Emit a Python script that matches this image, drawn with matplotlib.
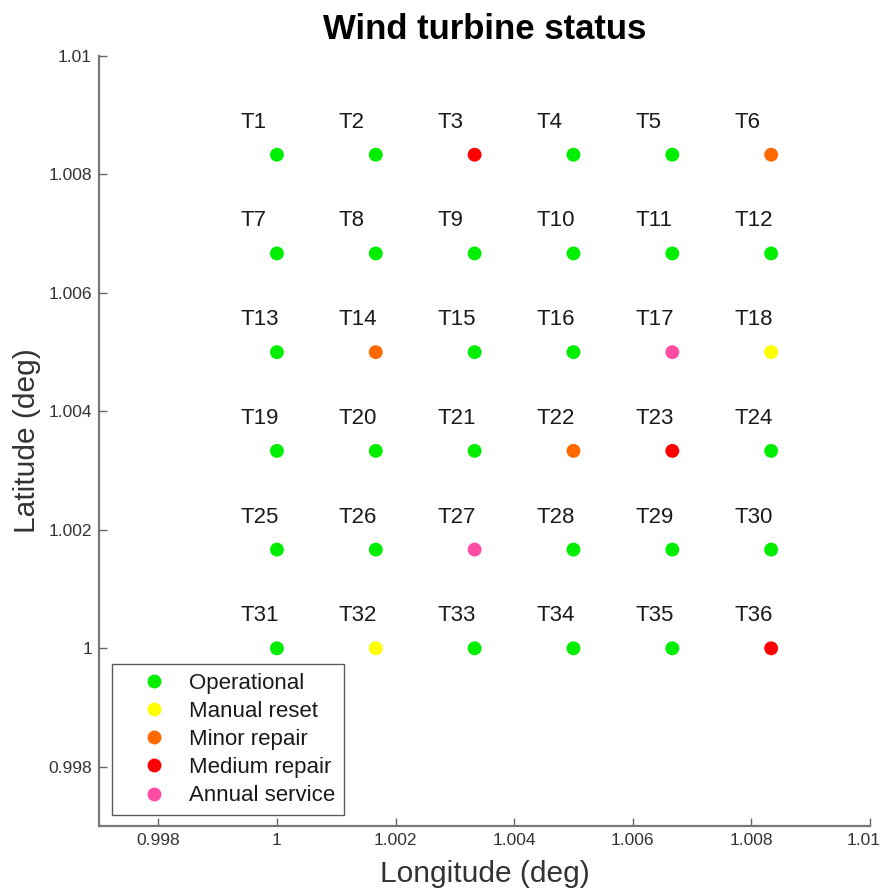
import matplotlib
matplotlib.use("Agg")
import matplotlib.pyplot as plt
import matplotlib.transforms as mtransforms
from matplotlib.lines import Line2D

plt.rcParams['font.family'] = ['Liberation Sans', 'DejaVu Sans']

# Data
lon_values = [1.0, 1.0 + 1/600, 1.0 + 2/600, 1.0 + 3/600, 1.0 + 4/600, 1.0 + 5/600]
lat_values = [1.0 + 5/600, 1.0 + 4/600, 1.0 + 3/600, 1.0 + 2/600, 1.0 + 1/600, 1.0]
status_rows = [
    ["Operational", "Operational", "Medium repair", "Operational", "Operational", "Minor repair"],
    ["Operational", "Operational", "Operational", "Operational", "Operational", "Operational"],
    ["Operational", "Minor repair", "Operational", "Operational", "Annual service", "Manual reset"],
    ["Operational", "Operational", "Operational", "Minor repair", "Medium repair", "Operational"],
    ["Operational", "Operational", "Annual service", "Operational", "Operational", "Operational"],
    ["Operational", "Manual reset", "Operational", "Operational", "Operational", "Medium repair"],
]
status_names = ["Operational", "Manual reset", "Minor repair", "Medium repair", "Annual service"]
status_colors = ["#00ee00", "#ffff00", "#ff6a00", "#ff0000", "#ff4da6"]
x_ticks = [0.998, 1.0, 1.002, 1.004, 1.006, 1.008, 1.01]
y_ticks = [0.998, 1.0, 1.002, 1.004, 1.006, 1.008, 1.01]
x_ticklabels = ["0.998", "1", "1.002", "1.004", "1.006", "1.008", "1.01"]
y_ticklabels = ["0.998", "1", "1.002", "1.004", "1.006", "1.008", "1.01"]

color_map = dict(zip(status_names, status_colors))

fig = plt.figure(figsize=(8.83, 8.90), dpi=100)
ax = fig.add_axes([99/883, 64/890, (870-99)/883, (834-64)/890])

n = 1
for r, lat in enumerate(lat_values):
    for c, lon in enumerate(lon_values):
        st = status_rows[r][c]
        ax.scatter([lon], [lat], s=100, color=color_map[st], edgecolors='none', zorder=3)
        ax.text(lon - 0.00062, lat + 0.00055, f"T{n}", fontsize=16, color='#1a1a1a',
                ha='left', va='center')
        n += 1

ax.set_xlim(0.997, 1.01)
ax.set_ylim(0.997, 1.01)
ax.set_xticks(x_ticks)
ax.set_xticklabels(x_ticklabels)
ax.set_yticks(y_ticks)
ax.set_yticklabels(y_ticklabels)
ax.tick_params(direction='in', length=6, width=1, colors='#666666', labelcolor='#333333',
               labelsize=12.5, pad=5)
# keep the last x tick label inside the figure
last = ax.get_xticklabels()[-1]
last.set_transform(last.get_transform() +
                   mtransforms.ScaledTranslation(-6/100, 0, fig.dpi_scale_trans))
for s in ['top', 'right']:
    ax.spines[s].set_visible(False)
for s in ['left', 'bottom']:
    ax.spines[s].set_color('#777777')
    ax.spines[s].set_linewidth(1.6)

ax.set_xlabel("Longitude (deg)", fontsize=21.5, color='#333333', labelpad=9)
ax.set_ylabel("Latitude (deg)", fontsize=21.5, color='#333333', labelpad=5)
ax.set_title("Wind turbine status", fontsize=25, fontweight='bold', pad=12)

handles = [Line2D([0], [0], marker='o', linestyle='none', markersize=10,
                  markerfacecolor=col, markeredgecolor='none', label=name)
           for name, col in zip(status_names, status_colors)]
leg = ax.legend(handles=handles, loc='lower left', bbox_to_anchor=(0.017, 0.014),
                borderaxespad=0, fontsize=16, frameon=True, fancybox=False,
                handletextpad=0.05, labelspacing=0.32, borderpad=0.4, handlelength=3.0)
leg.get_frame().set_edgecolor('#333333')
leg.get_frame().set_linewidth(1.0)
for t in leg.get_texts():
    t.set_color('#1a1a1a')

fig.savefig("out.png", dpi=100)
